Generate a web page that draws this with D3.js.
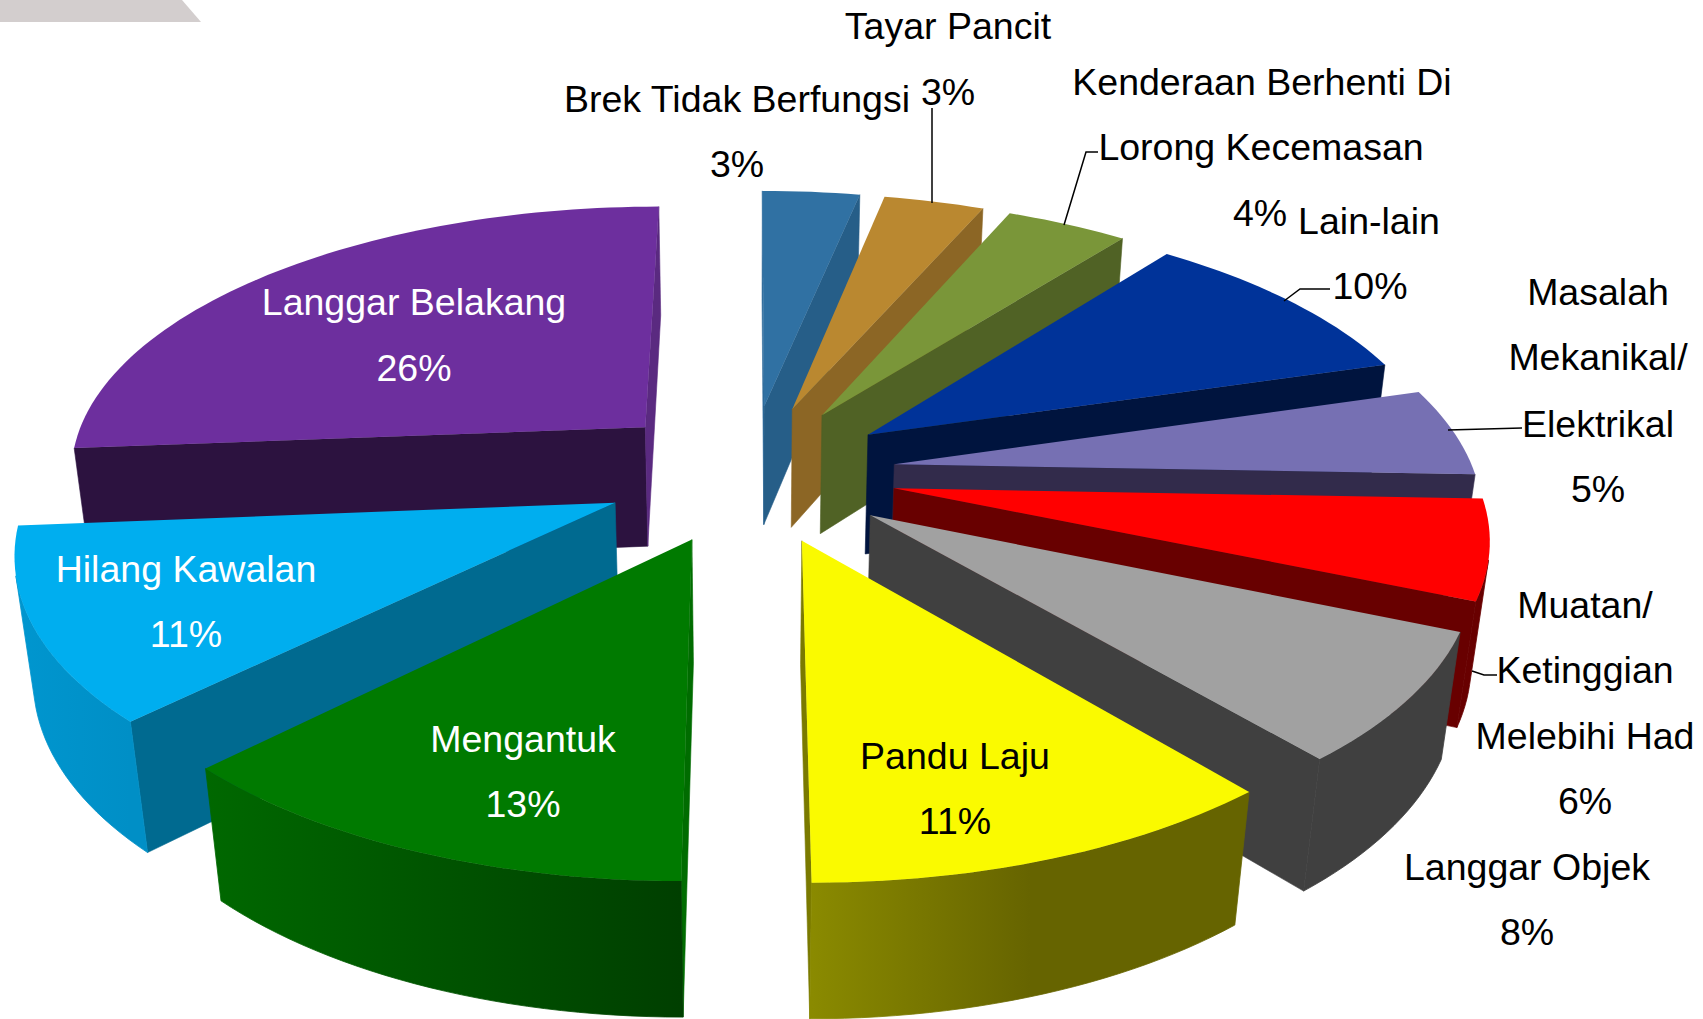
<!DOCTYPE html>
<html>
<head>
  <meta charset="utf-8">
  <title>Punca Kemalangan</title>
  <script src="https://d3js.org/d3.v7.min.js"></script>
  <style>
    html, body { margin: 0; padding: 0; background: #fff; }
    svg { display: block; }
    text {
      font-family: "Liberation Sans", Arial, sans-serif;
      font-size: 37.5px;
      text-anchor: middle;
    }
    .leader { fill: none; stroke: #000; stroke-width: 1.5px; }
  </style>
</head>
<body>
  <div id="chart"></div>

  <script>
    const categories = ["Brek Tidak Berfungsi", "Tayar Pancit", "Kenderaan Berhenti Di Lorong Kecemasan",
      "Lain-lain", "Masalah Mekanikal/ Elektrikal", "Muatan/ Ketinggian Melebihi Had", "Langgar Objek",
      "Pandu Laju", "Mengantuk", "Hilang Kawalan", "Langgar Belakang"];
    const values = [3.2, 3.3, 4.0, 9.9, 5.2, 5.8, 7.5, 11.1, 12.5, 11.2, 26.3];

    // colours per slice
    const topColors = ["#3071a3", "#ba8830", "#7a9639", "#003399", "#7670b3", "#ff0000", "#a1a1a1", "#fafa00", "#007a00", "#00aeef", "#6d2f9e"];
    const startWallColors = ["#2f6c9c", "#8c6625", "#506225", "#00143e", "#322b4b", "#680000", "#404040", "#666400", "#006c00", "#006a90", "#2c123f"];
    const endWallColors = ["#265e88", "#8c6625", "#506225", "#00143e", "#322b4b", "#680000", "#404040", "#7a7a00", "#003f00", "#006a90", "#5a2a80"];
    // outer wall gradient, start angle side to end angle side, flat up to outerHold
    const outerFrom = ["#265e88", "#8c6625", "#506225", "#00143e", "#322b4b", "#680000", "#404040", "#666400", "#003f00", "#008fc6", "#2c123f"];
    const outerTo = ["#265e88", "#8c6625", "#506225", "#00143e", "#322b4b", "#680000", "#404040", "#8a8a00", "#006800", "#0096cf", "#2c123f"];
    const outerHold = [0, 0, 0, 0, 0, 0, 0, 0.5, 0, 0, 0];

    // label text, one entry per printed line, with its centre and baseline
    const labelLines = [
      { t: "Brek Tidak Berfungsi", x: 737, y: 112 },
      { t: "3%", x: 737, y: 177 },
      { t: "Tayar Pancit", x: 948, y: 39 },
      { t: "3%", x: 948, y: 105 },
      { t: "Kenderaan Berhenti Di", x: 1262, y: 95 },
      { t: "Lorong Kecemasan", x: 1261, y: 160 },
      { t: "4%", x: 1260, y: 226 },
      { t: "Lain-lain", x: 1369, y: 234 },
      { t: "10%", x: 1370, y: 299 },
      { t: "Masalah", x: 1598, y: 305 },
      { t: "Mekanikal/", x: 1598, y: 370 },
      { t: "Elektrikal", x: 1598, y: 437 },
      { t: "5%", x: 1598, y: 502 },
      { t: "Muatan/", x: 1585, y: 618 },
      { t: "Ketinggian", x: 1585, y: 683 },
      { t: "Melebihi Had", x: 1585, y: 749 },
      { t: "6%", x: 1585, y: 814 },
      { t: "Langgar Objek", x: 1527, y: 880 },
      { t: "8%", x: 1527, y: 945 },
      { t: "Pandu Laju", x: 955, y: 769, fill: "#000" },
      { t: "11%", x: 955, y: 834, fill: "#000" },
      { t: "Mengantuk", x: 523, y: 752, fill: "#fff" },
      { t: "13%", x: 523, y: 817, fill: "#fff" },
      { t: "Hilang Kawalan", x: 186, y: 582, fill: "#fff" },
      { t: "11%", x: 186, y: 647, fill: "#fff" },
      { t: "Langgar Belakang", x: 414, y: 315, fill: "#fff" },
      { t: "26%", x: 414, y: 381, fill: "#fff" }
    ];

    // leader lines from the labels to their slices
    const leaders = [
      [[932, 108], [932, 203]],
      [[1098, 152], [1086, 152], [1064, 225]],
      [[1330, 289], [1300, 289], [1284, 301]],
      [[1522, 428], [1448, 430]],
      [[1497, 675], [1484, 675], [1472, 671]]
    ];

    const width = 1703, height = 1019;

    // perspective camera for the pie: x right, y toward viewer, z down
    const cx = 750, cy = 473, radiusX = 580, radiusY = 267, thick = 124;
    const tiltY = 0.152, tiltZ = 0.025;
    const explodeX = 0.252, explodeY = 0.26;

    function project(px, py, pz) {
      const w = 1 - tiltY * py + tiltZ * pz;
      return [cx + radiusX * px / w, cy + (radiusY * py + thick * pz) / w];
    }

    const svg = d3.select("#chart")
      .append("svg")
      .attr("width", width)
      .attr("height", height);
    const defs = svg.append("defs");

    // grey corner left over from the slide
    svg.append("polygon")
      .attr("points", "0,0 182,0 201,22 0,22")
      .attr("fill", "#d3cece");

    const line = d3.line();
    const path = pts => line(pts) + "Z";

    const arcs = d3.pie().sort(null)(values).map((a, i) => {
      const mid = (a.startAngle + a.endAngle) / 2;
      return { i, a0: a.startAngle, a1: a.endAngle, ox: explodeX * Math.sin(mid), oy: -explodeY * Math.cos(mid) };
    });

    // back slices first
    const drawOrder = arcs.slice().sort((p, q) => p.oy - q.oy);

    function addFace(g, pts, color) {
      // skip faces turned away from the camera
      if (d3.polygonArea(pts) >= 0) return;
      g.append("path").attr("d", path(pts)).attr("fill", color).attr("stroke", color).attr("stroke-width", 0.6);
    }

    drawOrder.forEach(s => {
      const g = svg.append("g").attr("class", "slice");
      const rim = (t, z) => project(s.ox + Math.sin(t), s.oy - Math.cos(t), z);
      const apex = z => project(s.ox, s.oy, z);
      const n = Math.max(8, Math.round((s.a1 - s.a0) * 40));
      const angles = d3.range(n + 1).map(k => s.a0 + (s.a1 - s.a0) * k / n);

      // radial walls
      addFace(g, [apex(0), apex(1), rim(s.a0, 1), rim(s.a0, 0)], startWallColors[s.i]);
      addFace(g, [rim(s.a1, 0), rim(s.a1, 1), apex(1), apex(0)], endWallColors[s.i]);

      // outer wall: only the part of the rim facing the camera
      const facing = d3.range(n).filter(k => d3.polygonArea(
        [rim(angles[k], 1), rim(angles[k + 1], 1), rim(angles[k + 1], 0), rim(angles[k], 0)]) < 0);
      if (facing.length) {
        const seen = angles.slice(facing[0], facing[facing.length - 1] + 2);
        const id = `outer-${s.i}`;
        const grad = defs.append("linearGradient")
          .attr("id", id)
          .attr("gradientUnits", "userSpaceOnUse")
          .attr("x1", rim(seen[0], 0)[0]).attr("y1", 0)
          .attr("x2", rim(seen[seen.length - 1], 0)[0]).attr("y2", 0);
        grad.append("stop").attr("offset", outerHold[s.i]).attr("stop-color", outerFrom[s.i]);
        grad.append("stop").attr("offset", 1).attr("stop-color", outerTo[s.i]);
        g.append("path")
          .attr("d", path(seen.map(t => rim(t, 0)).concat(seen.slice().reverse().map(t => rim(t, 1)))))
          .attr("fill", `url(#${id})`)
          .attr("stroke", `url(#${id})`)
          .attr("stroke-width", 0.8);
      }

      // top
      const topPts = [apex(0)].concat(angles.map(t => rim(t, 0)));
      g.append("path").attr("d", path(topPts)).attr("fill", topColors[s.i]);
    });

    svg.selectAll(".leader")
      .data(leaders)
      .enter()
      .append("path")
      .attr("class", "leader")
      .attr("d", d => line(d));

    svg.selectAll(".label")
      .data(labelLines)
      .enter()
      .append("text")
      .attr("class", "label")
      .attr("x", d => d.x)
      .attr("y", d => d.y)
      .attr("fill", d => d.fill || "#000")
      .text(d => d.t);
  </script>
</body>
</html>
